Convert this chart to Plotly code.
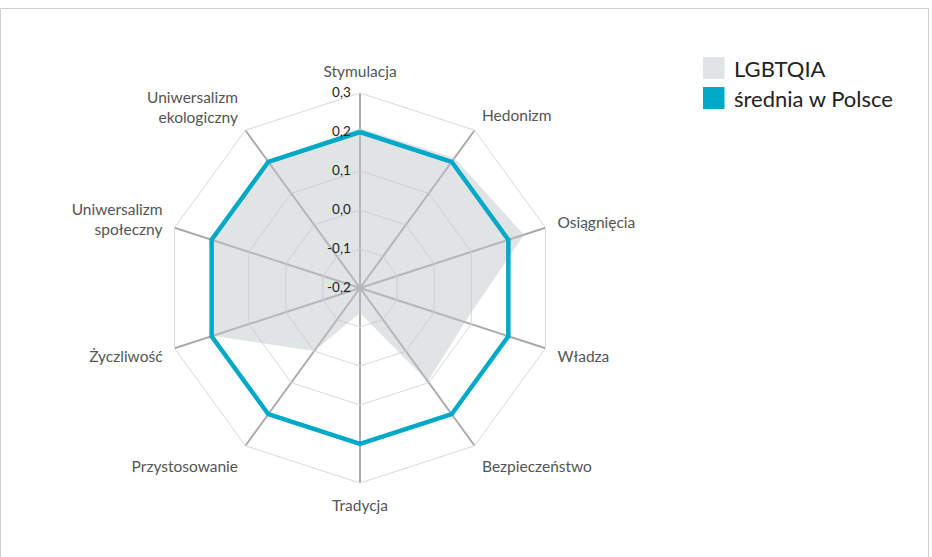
import plotly.graph_objects as go

categories = ["Stymulacja", "Hedonizm", "Osiągnięcia", "Władza", "Bezpieczeństwo",
              "Tradycja", "Przystosowanie", "Życzliwość",
              "Uniwersalizm<br>społeczny", "Uniwersalizm<br>ekologiczny"]
lgbtqia = [0.21, 0.212, 0.242, 0.083, 0.096, -0.136, 0.0, 0.197, 0.196, 0.2]
srednia = [0.2, 0.2, 0.2, 0.2, 0.2, 0.2, 0.2, 0.2, 0.2, 0.2]
series_names = ["LGBTQIA", "średnia w Polsce"]
tick_vals = [-0.2, -0.1, 0.0, 0.1, 0.2, 0.3]
tick_text = ["-0,2", "-0,1", "0,0", "0,1", "0,2", "0,3"]

GRAY_FILL = "rgba(190,197,199,0.46)"
GRAY_SWATCH = "#e1e4e5"
TEAL = "#00a9c8"
FONT = "Lato"

W, H = 932, 557
cx, cy, R = 360, 288, 195

fig = go.Figure()
fig.add_trace(go.Scatterpolar(
    r=lgbtqia + lgbtqia[:1], theta=categories + categories[:1],
    mode="lines", fill="toself", fillcolor=GRAY_FILL,
    line=dict(width=0, color="rgba(0,0,0,0)"),
    name=series_names[0], showlegend=False, hoverinfo="skip"))
fig.add_trace(go.Scatterpolar(
    r=srednia + srednia[:1], theta=categories + categories[:1],
    mode="lines", line=dict(color=TEAL, width=4.5),
    name=series_names[1], showlegend=False))

fig.update_layout(
    width=W, height=H, autosize=False,
    margin=dict(l=0, r=0, t=0, b=0),
    paper_bgcolor="white", plot_bgcolor="white",
    font=dict(family=FONT, color="#555"),
    polar=dict(
        domain=dict(x=[(cx - R) / W, (cx + R) / W],
                    y=[(H - cy - R) / H, (H - cy + R) / H]),
        bgcolor="white",
        gridshape="linear",
        radialaxis=dict(
            range=[-0.2, 0.3], tickvals=tick_vals, ticktext=tick_text,
            angle=90, tickangle=90, side="counterclockwise",
            showline=False, ticks="outside", ticklen=4,
            tickcolor="rgba(0,0,0,0)",
            gridcolor="#d9d9d9", gridwidth=1,
            tickfont=dict(family=FONT, size=13.5, color="#222")),
        angularaxis=dict(
            direction="clockwise", rotation=90,
            showline=True, linecolor="#d9d9d9", linewidth=1,
            gridcolor="#ababab", gridwidth=2,
            ticks="outside", ticklen=9, tickcolor="rgba(0,0,0,0)",
            tickfont=dict(family=FONT, size=15.5, color="#555")),
    ),
)

# frame of the container
fig.add_shape(type="rect", xref="paper", yref="paper",
              x0=0.5 / W, x1=928.5 / W, y0=-0.05, y1=1 - 8.5 / H,
              line=dict(color="#cfcfcf", width=1), fillcolor="rgba(0,0,0,0)")

# legend
legend_items = [(series_names[0], GRAY_SWATCH, 57, 79),
                (series_names[1], TEAL, 87, 109)]
for name, col, top, bot in legend_items:
    fig.add_shape(type="rect", xref="paper", yref="paper",
                  x0=703 / W, x1=724.5 / W, y0=1 - bot / H, y1=1 - top / H,
                  line=dict(width=0), fillcolor=col)
    fig.add_annotation(xref="paper", yref="paper", x=732 / W,
                       y=1 - (top + bot) / 2 / H, xanchor="left", yanchor="middle",
                       text=name, showarrow=False,
                       font=dict(family=FONT, size=22, color="#222"))

fig.write_html("out.html", config={"displayModeBar": False},
               post_script="document.body.style.margin='0';")
